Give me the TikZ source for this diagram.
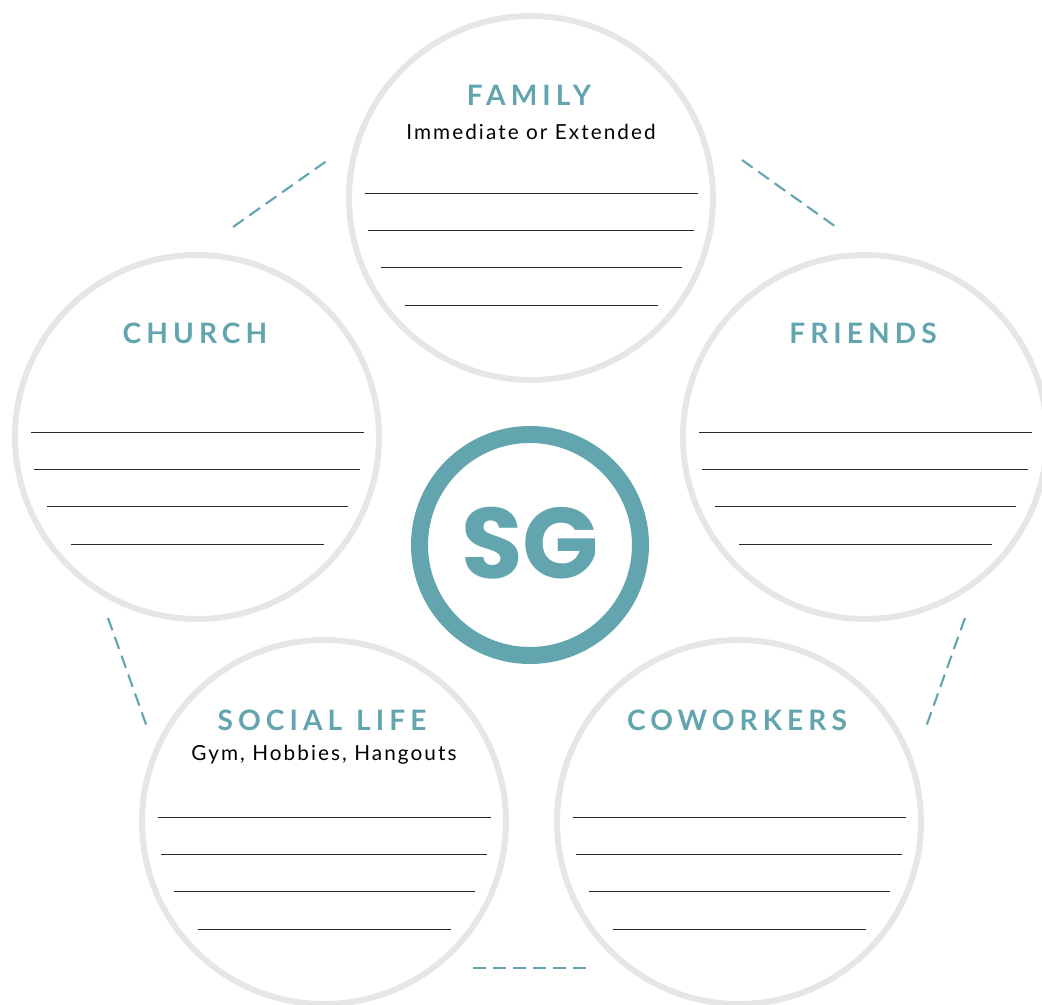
\documentclass[tikz,border=0pt]{standalone}
\usepackage{fontspec}
\setmainfont{Lato}
\newfontfamily\headfont[LetterSpace=18]{Lato}
\newfontfamily\subfont[LetterSpace=10]{Lato}
\newfontfamily\logofont{Poppins}
\definecolor{sgteal}{HTML}{62A5AE}
\definecolor{ringgray}{HTML}{E6E6E6}
\definecolor{rulegray}{HTML}{2A2A2A}

\begin{document}
\begin{tikzpicture}[
        ring/.style={circle, draw=ringgray, line width=1.7pt, inner sep=0pt, minimum size=3.64cm},
        title/.style={font=\headfont\bfseries\fontsize{8}{10}\selectfont, text=sgteal},
        sub/.style={font=\subfont\fontsize{5.9}{7}\selectfont, text=black},
        link/.style={draw=sgteal, line width=0.6pt, dash pattern=on 3.7pt off 2pt},
        rule/.style={draw=rulegray, line width=0.45pt}
    ]
        \useasboundingbox (0,0) rectangle (10.42,10.05);

        % Outer circles
        \node[ring] (family) at (5.31,8.07) {};
        \node[ring] (church) at (1.97,5.68) {};
        \node[ring] (friends) at (8.65,5.68) {};
        \node[ring] (social) at (3.24,1.83) {};
        \node[ring] (coworkers) at (7.39,1.83) {};

        % Writing lines
        \foreach \c in {family,church,friends,social,coworkers}
           {
                \draw[rule] ([shift={(-1.665,0.045)}]\c.center) -- ([shift={(1.665,0.045)}]\c.center);
                \draw[rule] ([shift={(-1.63,-0.325)}]\c.center) -- ([shift={(1.63,-0.325)}]\c.center);
                \draw[rule] ([shift={(-1.505,-0.695)}]\c.center) -- ([shift={(1.505,-0.695)}]\c.center);
                \draw[rule] ([shift={(-1.265,-1.075)}]\c.center) -- ([shift={(1.265,-1.075)}]\c.center);
           }

        % Titles
        \node[title] (familytitle) at ([shift={(-0.02,1.03)}]family.center) {FAMILY};
        \node[sub] (familysub) at ([yshift=0.66cm]family.center) {Immediate or Extended};
        \node[title] (churchtitle) at ([shift={(-0.02,1.04)}]church.center) {CHURCH};
        \node[title] (friendstitle) at ([shift={(-0.02,1.04)}]friends.center) {FRIENDS};
        \node[title] (socialtitle) at ([shift={(-0.02,1.02)}]social.center) {SOCIAL\hspace{0.6pt} LIFE};
        \node[sub] (socialsub) at ([yshift=0.67cm]social.center) {Gym, Hobbies, Hangouts};
        \node[title] (coworkerstitle) at ([shift={(-0.02,1.02)}]coworkers.center) {COWORKERS};

        % Center logo
        \node[circle, draw=sgteal, line width=0.17cm, inner sep=0pt, minimum size=2.21cm] (sg) at (5.30,4.60) {};
        \node[font=\logofont\bfseries\fontsize{28.5}{30}\selectfont, text=sgteal] (sgtext) at ([yshift=0.02cm]sg.center) {SG};

        % Dashed links
        \coordinate (fc1) at (2.33,7.78);
        \coordinate (fc2) at (3.28,8.45);
        \coordinate (ff1) at (7.42,8.45);
        \coordinate (ff2) at (8.36,7.78);
        \coordinate (cs1) at (1.08,3.87);
        \coordinate (cs2) at (1.47,2.78);
        \coordinate (fw1) at (9.65,3.87);
        \coordinate (fw2) at (9.26,2.78);
        \coordinate (sw1) at (4.73,0.37);
        \coordinate (sw2) at (5.90,0.37);
        \draw[link] (fc1) -- (fc2);
        \draw[link] (ff1) -- (ff2);
        \draw[link] (cs1) -- (cs2);
        \draw[link] (fw1) -- (fw2);
        \draw[link] (sw1) -- (sw2);
    \end{tikzpicture}
\end{document}
